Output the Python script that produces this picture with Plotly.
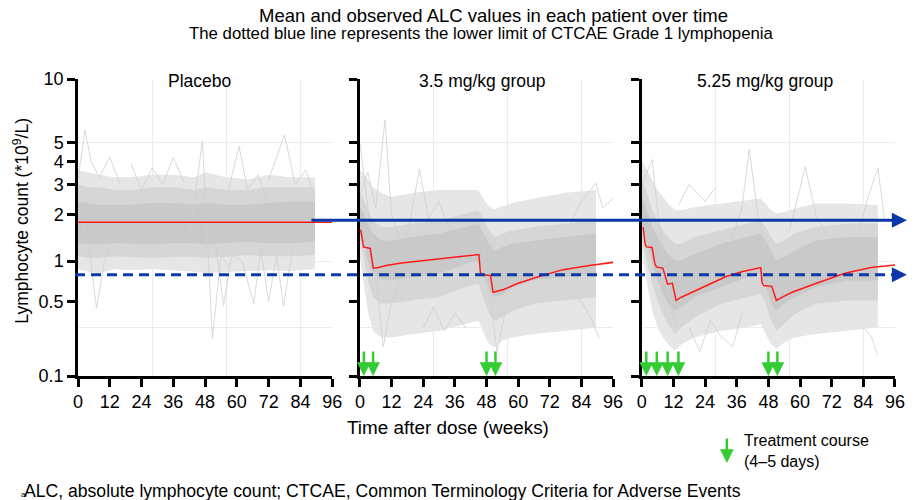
import plotly.graph_objects as go

# ---------------- data (values in 10^9/L, time in weeks) ----------------
Y_TICKS = [0.1, 0.5, 1, 2, 3, 4, 5, 10]
Y_TICK_TEXT = ["0.1", "0.5", "1", "2", "3", "4", "5", "10"]
X_TICKS = [0, 12, 24, 36, 48, 60, 72, 84, 96]
GRID_Y = [0.3, 1, 5]
GRID_X = [28, 56, 84]
PANEL_TITLES = ["Placebo", "3.5 mg/kg group", "5.25 mg/kg group"]

BASELINE_MEAN = 1.85      # solid blue line
GRADE1_LLN = 0.8          # dashed blue line

p1_weeks = [0, 4, 8, 14, 20, 28, 36, 44, 48, 56, 64, 72, 80, 89.5]
p1_outer_hi = [3.6, 3.5, 3.4, 3.3, 3.3, 3.4, 3.4, 3.3, 3.5, 3.3, 3.2, 3.4, 3.3, 3.3]
p1_mid_hi = [3.0, 2.9, 2.9, 2.8, 2.8, 2.9, 2.9, 2.8, 2.9, 2.8, 2.8, 2.9, 2.9, 2.9]
p1_inner_hi = [2.4, 2.35, 2.3, 2.3, 2.3, 2.35, 2.35, 2.3, 2.35, 2.3, 2.3, 2.35, 2.4, 2.4]
p1_inner_lo = [1.32, 1.3, 1.3, 1.32, 1.32, 1.3, 1.32, 1.32, 1.3, 1.32, 1.35, 1.32, 1.32, 1.35]
p1_mid_lo = [1.08, 1.05, 1.05, 1.08, 1.07, 1.05, 1.07, 1.07, 1.05, 1.07, 1.1, 1.08, 1.08, 1.1]
p1_outer_lo = [0.88, 0.84, 0.82, 0.88, 0.86, 0.88, 0.86, 0.84, 0.82, 0.84, 0.85, 0.86, 0.85, 0.88]

# 3.5 mg/kg cloud
p2_weeks = [0, 1.5, 3, 5, 8, 12, 20, 30, 40, 45, 47, 49, 51, 54, 58, 66, 78, 89.5]
p2_outer_hi = [3.6, 3.45, 3.2, 2.9, 2.7, 2.55, 2.7, 2.8, 2.8, 2.8, 2.45, 2.25, 2.15, 2.25, 2.35, 2.5, 2.7, 2.8]
p2_mid_hi = [2.67, 2.45, 2.13, 1.85, 1.68, 1.68, 1.77, 1.85, 2.03, 2.13, 1.85, 1.60, 1.45, 1.53, 1.60, 1.68, 1.77, 1.85]
p2_inner_hi = [2.23, 2.03, 1.77, 1.53, 1.38, 1.38, 1.45, 1.53, 1.68, 1.77, 1.53, 1.31, 1.18, 1.25, 1.31, 1.38, 1.45, 1.53]
p2_inner_lo = [1.60, 1.31, 1.01, 0.81, 0.73, 0.73, 0.77, 0.81, 0.96, 1.01, 0.77, 0.61, 0.54, 0.57, 0.645, 0.73, 0.77, 0.81]
p2_mid_lo = [1.38, 1.07, 0.725, 0.54, 0.48, 0.48, 0.51, 0.54, 0.645, 0.685, 0.51, 0.395, 0.346, 0.37, 0.42, 0.48, 0.51, 0.54]
p2_outer_lo = [1.07, 0.685, 0.42, 0.28, 0.245, 0.245, 0.263, 0.28, 0.324, 0.346, 0.263, 0.212, 0.197, 0.228, 0.245, 0.263, 0.28, 0.30]

# 5.25 mg/kg cloud
p3_weeks = [0, 2, 4, 6, 8, 10, 12.5, 15, 20, 30, 40, 45, 47, 49, 51, 54, 58, 66, 78, 89.5]
p3_outer_hi = [4.08, 3.61, 3.18, 2.79, 2.56, 2.34, 2.13, 2.13, 2.23, 2.34, 2.45, 2.50, 2.34, 2.13, 2.04, 2.08, 2.18, 2.34, 2.34, 2.29]
p3_mid_hi = [3.18, 2.67, 2.13, 1.85, 1.60, 1.45, 1.31, 1.31, 1.45, 1.60, 1.77, 1.85, 1.68, 1.45, 1.31, 1.38, 1.53, 1.68, 1.77, 1.77]
p3_inner_hi = [2.56, 2.13, 1.68, 1.45, 1.25, 1.12, 1.01, 1.01, 1.12, 1.31, 1.45, 1.53, 1.38, 1.18, 1.01, 1.07, 1.18, 1.38, 1.45, 1.45]
p3_inner_lo = [1.77, 1.31, 0.96, 0.725, 0.574, 0.478, 0.421, 0.448, 0.54, 0.645, 0.767, 0.812, 0.645, 0.478, 0.421, 0.478, 0.54, 0.645, 0.725, 0.725]
p3_mid_lo = [1.45, 0.96, 0.685, 0.508, 0.395, 0.324, 0.263, 0.302, 0.369, 0.478, 0.54, 0.574, 0.478, 0.346, 0.282, 0.324, 0.395, 0.478, 0.508, 0.508]
p3_outer_lo = [1.18, 0.685, 0.421, 0.302, 0.245, 0.212, 0.183, 0.212, 0.245, 0.282, 0.302, 0.324, 0.263, 0.212, 0.19, 0.22, 0.245, 0.263, 0.282, 0.302]

# a few individual patient traces that stand out of the clouds
p1_traces = [
    ([0, 2.6, 5, 8, 12, 16], [3.2, 5.8, 4.0, 3.3, 4.2, 3.0]),
    ([0, 4, 7, 10, 14], [2.2, 1.3, 0.44, 1.0, 1.6]),
    ([42, 47, 50.8, 54, 57], [1.4, 5.1, 0.24, 1.1, 0.9]),
    ([56, 60.8, 64, 68, 72], [2.5, 4.8, 2.8, 3.4, 2.3]),
    ([72, 78, 82, 86, 89.5], [3.2, 5.5, 3.0, 3.6, 2.5]),
    ([52, 55, 58, 62, 66.4, 69, 72, 75, 77.6, 81], [1.3, 0.46, 1.1, 1.0, 0.48, 1.2, 0.5, 1.1, 0.46, 1.2]),
    ([20, 24, 28, 32, 36, 40], [3.9, 2.8, 3.7, 3.0, 4.2, 3.1]),
]
p2_traces = [
    ([0, 3, 6, 9.5, 12, 15], [2.6, 3.5, 2.2, 6.5, 2.0, 1.4]),
    ([0, 2, 5, 8.9, 12, 16], [5.0, 3.0, 1.2, 0.20, 0.5, 0.8]),
    ([18, 22.6, 26, 30, 34], [1.5, 3.65, 1.9, 2.4, 1.6]),
    ([46, 49, 52, 55, 60], [1.5, 0.6, 0.18, 0.4, 0.6]),
    ([80, 84, 89.5, 92, 96], [1.8, 2.4, 3.05, 2.2, 2.5]),
    ([80, 84, 88, 90.7], [0.6, 0.5, 0.35, 0.24]),
    ([24, 28, 32, 36, 40], [0.3, 0.45, 0.28, 0.4, 0.3]),
]
p3_traces = [
    ([0, 3.9, 7, 10, 13], [3.0, 4.1, 1.5, 0.6, 0.3]),
    ([34, 38, 40.75, 44, 47], [1.4, 2.2, 4.64, 2.0, 1.2]),
    ([56, 62, 66, 70], [1.6, 3.75, 2.0, 1.5]),
    ([82, 86, 89.5, 92], [1.5, 2.6, 3.7, 1.9]),
    ([18, 22, 26, 30, 34.5, 38], [0.3, 0.18, 0.35, 0.25, 0.2, 0.4]),
    ([84, 87, 89.5], [0.3, 0.25, 0.165]),
    ([14, 18, 24, 28], [2.3, 3.0, 2.4, 2.9]),
]

# model-predicted mean ALC (red)
mean1_weeks = [0, 96]
mean1_vals = [1.8, 1.8]
mean2_weeks = [0.3, 0.8, 1.4, 3.9, 4.4, 5.1, 7, 10, 15.75, 22, 28.25, 36, 45.1, 45.7,
               46.5, 49.5, 50.5, 54.5, 59.5, 67, 77, 87, 96]
mean2_vals = [1.62, 1.40, 1.25, 1.22, 1.05, 0.89, 0.90, 0.93, 0.97, 1.00, 1.03, 1.07, 1.11, 0.83,
              0.80, 0.79, 0.59, 0.62, 0.685, 0.767, 0.87, 0.93, 0.98]
mean3_weeks = [0.5, 1.3, 1.8, 3.9, 5.0, 5.6, 8.0, 9.2, 9.8, 11.6, 12.6, 13.0, 15, 18.25, 24.5, 32,
               38.25, 45.1, 45.6, 46.2, 49.3, 50.6, 51.0, 54, 57, 67, 77, 87, 96]
mean3_vals = [1.68, 1.30, 1.25, 1.24, 0.95, 0.91, 0.89, 0.74, 0.68, 0.69, 0.56, 0.51, 0.54, 0.58, 0.67,
              0.776, 0.845, 0.90, 0.70, 0.665, 0.655, 0.53, 0.51, 0.55, 0.59, 0.70, 0.82, 0.90, 0.94]

# treatment courses (green arrows)
arrows2 = [1.5, 5.0, 48.0, 51.4]
arrows3 = [1.7, 5.7, 9.8, 13.9, 48.0, 51.4]

# ---------------- styling ----------------
FONT = "Liberation Sans, Arial, Helvetica, sans-serif"
GRAY_OUTER = "#e6e6e6"
GRAY_MID = "#d6d6d6"
GRAY_INNER = "#c9c9c9"
GRAY_LINE = "#cfcfcf"
RED = "#ff1a1a"
BLUE = "#0b37a8"
GREEN = "#33cc33"
POW = 0.2   # the y axis of the original uses a power (x^0.2) scale


def tr(vals):
    return [v ** POW for v in vals]


# pixel geometry of plotting area
L, R, T, B = 78, 904, 79, 376
W, H = R - L, B - T


def px(x):
    return (x - L) / W


def py(y):
    return (B - y) / H


domains = [[0, px(335)], [px(363), px(619)], [px(648), 1.0]]

fig = go.Figure()

panels = [
    (p1_weeks, p1_outer_hi, p1_mid_hi, p1_inner_hi, p1_inner_lo, p1_mid_lo, p1_outer_lo, p1_traces,
     mean1_weeks, mean1_vals),
    (p2_weeks, p2_outer_hi, p2_mid_hi, p2_inner_hi, p2_inner_lo, p2_mid_lo, p2_outer_lo, p2_traces,
     mean2_weeks, mean2_vals),
    (p3_weeks, p3_outer_hi, p3_mid_hi, p3_inner_hi, p3_inner_lo, p3_mid_lo, p3_outer_lo, p3_traces,
     mean3_weeks, mean3_vals),
]

for i, (wk, ohi, mhi, ihi, ilo, mlo, olo, traces, mw, mv) in enumerate(panels):
    xa = "x" if i == 0 else f"x{i+1}"
    ya = "y" if i == 0 else f"y{i+1}"
    for hi, lo, col in [(ohi, olo, GRAY_OUTER), (mhi, mlo, GRAY_MID), (ihi, ilo, GRAY_INNER)]:
        fig.add_trace(go.Scatter(
            x=wk + wk[::-1], y=tr(hi) + tr(lo[::-1]), xaxis=xa, yaxis=ya,
            fill="toself", fillcolor=col, line=dict(width=0), mode="lines",
            hoverinfo="skip", showlegend=False))
    for tw, tv in traces:
        fig.add_trace(go.Scatter(x=tw, y=tr(tv), xaxis=xa, yaxis=ya, mode="lines",
                                 line=dict(color=GRAY_LINE, width=0.8),
                                 hoverinfo="skip", showlegend=False))
    fig.add_trace(go.Scatter(x=mw, y=tr(mv), xaxis=xa, yaxis=ya, mode="lines",
                             line=dict(color=RED, width=1.5), showlegend=False))

# axes
axis_common = dict(showline=True, linecolor="black", linewidth=2.5, ticks="outside",
                   ticklen=8, tickwidth=2.5, tickcolor="black", zeroline=False,
                   showgrid=False, tickfont=dict(family=FONT, size=18, color="black"))
for i in range(3):
    xk = "xaxis" if i == 0 else f"xaxis{i+1}"
    yk = "yaxis" if i == 0 else f"yaxis{i+1}"
    fig.update_layout({
        xk: dict(axis_common, domain=domains[i], range=[0, 96], tickmode="array",
                 tickvals=X_TICKS, anchor="y" if i == 0 else f"y{i+1}",
                 minor=dict(tickmode="array", tickvals=GRID_X, showgrid=True,
                            gridcolor="#ececec", gridwidth=1, ticks="")),
        yk: dict(axis_common, domain=[0, 1], range=[0.1 ** POW, 10 ** POW], tickmode="array",
                 tickvals=tr(Y_TICKS), ticktext=Y_TICK_TEXT, showticklabels=(i == 0),
                 anchor="x" if i == 0 else f"x{i+1}",
                 minor=dict(tickmode="array", tickvals=tr(GRID_Y), showgrid=True,
                            gridcolor="#ececec", gridwidth=1, ticks="")),
    })

# reference lines (blue) spanning across panels
fig.add_shape(type="line", xref="paper", yref="y", x0=px(314), x1=px(906),
              y0=BASELINE_MEAN ** POW, y1=BASELINE_MEAN ** POW, line=dict(color=BLUE, width=3))
fig.add_shape(type="line", xref="paper", yref="y", x0=px(75), x1=px(906),
              y0=GRADE1_LLN ** POW, y1=GRADE1_LLN ** POW,
              line=dict(color=BLUE, width=3, dash="10px,6px"))
for yv in [BASELINE_MEAN, GRADE1_LLN]:
    fig.add_annotation(x=px(916), y=yv ** POW, xref="paper", yref="y", ax=-14, ay=0,
                       showarrow=True, arrowhead=2, arrowsize=1, arrowwidth=3,
                       arrowcolor=BLUE, text="")

# treatment course arrows
for xa, ya, arr in [("x2", "y2", arrows2), ("x3", "y3", arrows3)]:
    for a in arr:
        fig.add_annotation(x=a, y=0.1 ** POW, xref=xa, yref=ya, ax=0, ay=-26,
                           showarrow=True, arrowhead=2, arrowsize=1.1, arrowwidth=2.5,
                           arrowcolor=GREEN, text="")

# texts
def txt(s, x, y, size, xanchor="center", angle=0):
    fig.add_annotation(text=s, x=x, y=y, xref="paper", yref="paper", showarrow=False,
                       xanchor=xanchor, yanchor="middle", textangle=angle,
                       font=dict(family=FONT, size=size, color="black"))


txt("Mean and observed ALC values in each patient over time", px(498.5), py(15), 18.5)
txt("The dotted blue line represents the lower limit of CTCAE Grade 1 lymphopenia",
    px(486), py(34), 16.8)
for title, cx in zip(PANEL_TITLES, [201, 486.7, 773]):
    txt(title, px(cx), py(81), 17.5)
txt("Time after dose (weeks)", px(452), py(427), 18.9)
txt("Lymphocyte count (*10<sup>9</sup>/L)", px(20), py(221), 17.5, angle=-90)
txt("ALC, absolute lymphocyte count; CTCAE, Common Terminology Criteria for Adverse Events",
    px(21), py(491), 17.6, xanchor="left")
txt("a", px(18), py(494), 8, xanchor="left")

# legend for treatment course
fig.add_annotation(x=px(734), y=py(463), xref="paper", yref="paper", ax=0, ay=-26,
                   showarrow=True, arrowhead=2, arrowsize=1.1, arrowwidth=2.5,
                   arrowcolor=GREEN, text="")
fig.add_annotation(text="Treatment course<br>(4–5 days)", x=px(749), y=py(451),
                   xref="paper", yref="paper", showarrow=False, xanchor="left",
                   yanchor="middle", align="left",
                   font=dict(family=FONT, size=16, color="black"))

fig.update_layout(width=917, height=500, margin=dict(l=L, r=917 - R, t=T, b=500 - B),
                  plot_bgcolor="white", paper_bgcolor="white", showlegend=False,
                  font=dict(family=FONT, color="black"))

fig.write_html("out.html")
